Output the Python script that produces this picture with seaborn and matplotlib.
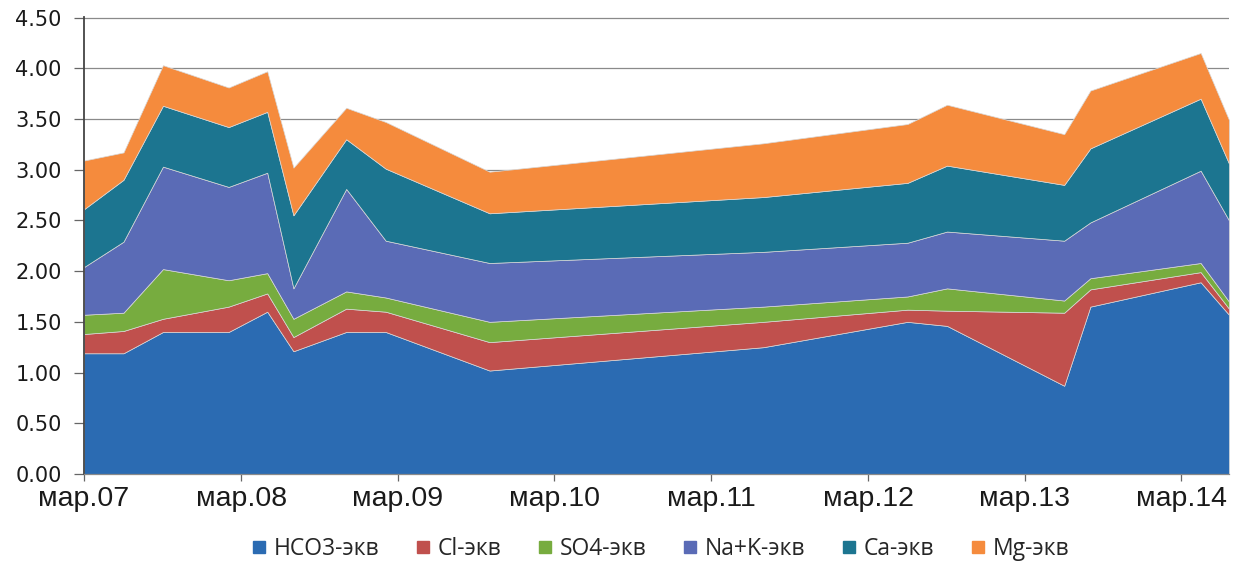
import matplotlib
matplotlib.use("Agg")
import matplotlib.pyplot as plt
from matplotlib.lines import Line2D
import seaborn as sns
import pandas as pd

# Sampling dates
dates = ["2007-03-01", "2007-06-01", "2007-09-01", "2008-02-01", "2008-05-01",
         "2008-07-01", "2008-11-01", "2009-02-01", "2009-10-01", "2011-07-01",
         "2012-06-01", "2012-09-01", "2013-06-01", "2013-08-01", "2014-04-15",
         "2014-06-20"]

# Ion equivalents per sample
hco3 = [1.19, 1.19, 1.40, 1.40, 1.60, 1.21, 1.40, 1.40, 1.02, 1.25, 1.50, 1.46, 0.87, 1.65, 1.89, 1.57]
cl   = [0.19, 0.22, 0.13, 0.25, 0.18, 0.14, 0.23, 0.20, 0.28, 0.25, 0.12, 0.15, 0.72, 0.17, 0.10, 0.06]
so4  = [0.19, 0.18, 0.49, 0.26, 0.20, 0.18, 0.17, 0.14, 0.20, 0.15, 0.13, 0.22, 0.12, 0.11, 0.09, 0.07]
nak  = [0.47, 0.70, 1.01, 0.92, 0.99, 0.30, 1.01, 0.56, 0.58, 0.54, 0.53, 0.56, 0.59, 0.55, 0.91, 0.80]
ca   = [0.57, 0.61, 0.60, 0.59, 0.60, 0.72, 0.49, 0.71, 0.49, 0.54, 0.59, 0.65, 0.55, 0.73, 0.71, 0.56]
mg   = [0.48, 0.27, 0.40, 0.39, 0.40, 0.47, 0.31, 0.46, 0.41, 0.53, 0.58, 0.60, 0.50, 0.57, 0.45, 0.43]

series_names = ["HCO3-экв", "Cl-экв", "SO4-экв", "Na+K-экв", "Ca-экв", "Mg-экв"]

tick_dates = ["2007-03-01", "2008-03-01", "2009-03-01", "2010-03-01",
              "2011-03-01", "2012-03-01", "2013-03-01", "2014-03-01"]
tick_labels = ["мар.07", "мар.08", "мар.09", "мар.10", "мар.11", "мар.12", "мар.13", "мар.14"]

y_ticks = [0.0, 0.5, 1.0, 1.5, 2.0, 2.5, 3.0, 3.5, 4.0, 4.5]

palette = ["#2b6bb2", "#c0504d", "#77ac3f", "#5a6bb6", "#1c7590", "#f58b3d"]

sns.set_theme(style="white")
plt.rcParams["font.family"] = ["DejaVu Sans"]

df = pd.DataFrame(
    {"HCO3-экв": hco3, "Cl-экв": cl, "SO4-экв": so4,
     "Na+K-экв": nak, "Ca-экв": ca, "Mg-экв": mg},
    index=pd.to_datetime(dates),
)

W, H = 1246, 562
fig = plt.figure(figsize=(W / 100, H / 100), dpi=100)
ax = fig.add_axes([84 / W, (H - 474) / H, (1229 - 84) / W, (474 - 17) / H])

ax.stackplot(df.index, *[df[c].values for c in series_names],
             colors=palette, labels=series_names,
             edgecolor="#d8d8d8", linewidth=0.5)

ax.set_xlim(df.index[0], df.index[-1])
ax.set_ylim(0, 4.505)

ax.set_yticks(y_ticks)
ax.set_yticklabels([f"{v:.2f}" for v in y_ticks], fontsize=15, color="#1a1a1a")
ax.set_xticks(pd.to_datetime(tick_dates))
ax.set_xticklabels(tick_labels, fontsize=20.5, family="Liberation Sans", color="#1a1a1a")

ax.yaxis.grid(True, color="#8a8a8a", linewidth=0.9)
ax.xaxis.grid(False)
ax.set_axisbelow(True)

for side in ("top", "right"):
    ax.spines[side].set_visible(False)
ax.spines["left"].set_color("#444444")
ax.spines["left"].set_linewidth(1.3)
ax.spines["bottom"].set_color("#8a8a8a")
ax.spines["bottom"].set_linewidth(0.9)

ax.tick_params(axis="y", direction="out", length=7, width=0.9, color="#666666", pad=9, left=True)
ax.tick_params(axis="x", direction="out", length=5, width=0.9, color="#666666", pad=4, bottom=True)

handles = [Line2D([0], [0], marker="s", linestyle="none", markersize=8.5,
                  markerfacecolor=c, markeredgecolor=c) for c in palette]
fig.legend(handles, series_names, loc="center", bbox_to_anchor=(660 / W, 1 - 549 / H),
           ncol=6, frameon=False, handlelength=0.7, handletextpad=0.3,
           columnspacing=1.55, prop={"family": "Open Sans", "size": 16.5})

fig.savefig("out.png", dpi=100, facecolor="white")
